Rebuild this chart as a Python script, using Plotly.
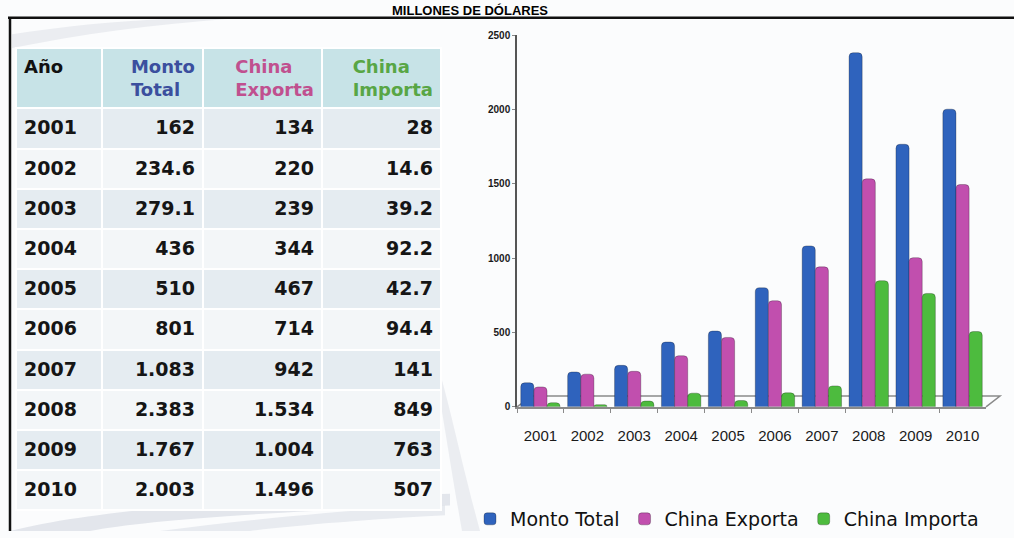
import plotly.graph_objects as go

# ---------------- data ----------------
years = ["2001", "2002", "2003", "2004", "2005", "2006", "2007", "2008", "2009", "2010"]
monto_total = [162, 234.6, 279.1, 436, 510, 801, 1083, 2383, 1767, 2003]
china_exporta = [134, 220, 239, 344, 467, 714, 942, 1534, 1004, 1496]
china_importa = [28, 14.6, 39.2, 92.2, 42.7, 94.4, 141, 849, 763, 507]
series_names = ["Monto Total", "China Exporta", "China Importa"]
header_labels = ["Año", "Monto<br>Total", "China<br>Exporta", "China<br>Importa"]
y_ticks = [0, 500, 1000, 1500, 2000, 2500]
title_text = "MILLONES DE DÓLARES"

W, H = 1014, 538
def px(x):
    return x / W
def py(y):
    return (H - y) / H

def fmt(v):
    if v >= 1000:
        return f"{v/1000:.3f}"
    if float(v).is_integer():
        return str(int(v))
    return f"{v}"

bar_colors = ["#2f63bd", "#c14fae", "#4dbb3e"]
header_colors = ["#111111", "#3b4f9e", "#c0508f", "#58a645"]
TFONT = "DejaVu Sans, Liberation Sans, Arial"

fig = go.Figure()

# ---------------- table ----------------
row_fill = ["#e5ecf1" if i % 2 == 0 else "#f3f6f8" for i in range(len(years))]
fig.add_trace(go.Table(
    domain=dict(x=[px(16), px(441)], y=[py(520), py(44)]),
    columnwidth=[86, 101, 119, 119],
    header=dict(
        values=[f"<b>{h}</b>" for h in header_labels],
        fill_color="#c7e3e7",
        line=dict(color="white", width=2),
        align=["left", "right", "right", "right"],
        font=dict(family=TFONT, size=18, color=header_colors),
        height=56,
    ),
    cells=dict(
        values=[[f"<b>{y}</b>" for y in years],
                [f"<b>{fmt(v)}</b>" for v in monto_total],
                [f"<b>{fmt(v)}</b>" for v in china_exporta],
                [f"<b>{fmt(v)}</b>" for v in china_importa]],
        fill_color=[row_fill] * 4,
        line=dict(color="white", width=2),
        align=["left", "right", "right", "right"],
        font=dict(family=TFONT, size=19, color="#151515"),
        height=40.2,
    ),
))

# ---------------- bars ----------------
for name, vals, col in zip(series_names, [monto_total, china_exporta, china_importa], bar_colors):
    fig.add_trace(go.Bar(
        x=years, y=vals, name=name,
        marker=dict(color=col, line=dict(color="rgba(0,0,0,0.25)", width=1), cornerradius=4),
        xaxis="x", yaxis="y",
    ))

# ---------------- decorations ----------------
shapes = []
swooshes = [
    ("M 10,538 C 100,515 250,505 450,500 L 450,512 C 260,518 140,528 90,538 Z", 0.18),
    ("M 160,538 C 260,525 360,515 445,512 L 445,522 C 370,526 300,532 250,538 Z", 0.14),
    ("M 441,380 C 452,420 462,470 480,538 L 462,538 C 452,480 446,440 441,410 Z", 0.12),
    ("M 12,30 C 60,22 120,16 170,14 L 230,14 C 150,20 80,30 12,44 Z", 0.12),
]
for p, op in swooshes:
    toks = p.replace(",", " ").split()
    out = []
    i = 0
    while i < len(toks):
        t = toks[i]
        if t.isalpha():
            out.append(t)
            i += 1
        else:
            x = float(toks[i]); y = float(toks[i + 1])
            out.append(f"{px(x):.5f},{py(y):.5f}")
            i += 2
    shapes.append(dict(type="path", xref="paper", yref="paper", path=" ".join(out),
                       fillcolor=f"rgba(120,135,160,{op})", line=dict(width=0), layer="below"))

# frame lines
shapes.append(dict(type="line", xref="paper", yref="paper", x0=px(8), x1=1, y0=py(13), y1=py(13),
                   line=dict(color="#111", width=2.5)))
shapes.append(dict(type="line", xref="paper", yref="paper", x0=px(10), x1=px(10), y0=py(13), y1=0,
                   line=dict(color="#111", width=2.5)))
# 3D floor
fpath = (f"M {px(517):.5f},{py(411):.5f} L {px(532):.5f},{py(400):.5f} "
         f"L {px(1000):.5f},{py(400):.5f} L {px(986):.5f},{py(411):.5f}")
shapes.append(dict(type="path", xref="paper", yref="paper", path=fpath,
                   line=dict(color="#8a8a8a", width=1.5), layer="below"))

fig.update_layout(
    width=W, height=H,
    margin=dict(l=0, r=0, t=0, b=0),
    paper_bgcolor="#fbfcfd",
    plot_bgcolor="rgba(0,0,0,0)",
    barmode="group",
    bargap=0.16,
    bargroupgap=0.0,
    shapes=shapes,
    xaxis=dict(
        domain=[px(517), px(986)],
        type="category",
        showline=True, linecolor="#8a8a8a", linewidth=1.5,
        ticks="outside", ticklen=4, tickcolor="#8a8a8a", tickson="boundaries",
        tickfont=dict(family="Liberation Sans, Arial", size=15, color="#1a1a1a"),
        ticklabelstandoff=14,
        showgrid=False, zeroline=False,
    ),
    yaxis=dict(
        domain=[py(411), py(31)],
        range=[0, 2500],
        tickvals=y_ticks,
        showline=True, linecolor="#555", linewidth=1.5,
        ticks="outside", ticklen=3, tickcolor="#888",
        tickfont=dict(family="Liberation Sans, Arial", size=10, color="#1a1a1a", weight="bold"),
        showgrid=False, zeroline=False,
    ),
    legend=dict(
        orientation="h", x=px(470), y=py(526), xanchor="left", yanchor="middle",
        font=dict(family="DejaVu Sans, Liberation Sans", size=19, color="#111"),
        bgcolor="rgba(0,0,0,0)", itemwidth=30, tracegroupgap=0,
    ),
    annotations=[dict(
        text=f"<b>{title_text}</b>", xref="paper", yref="paper",
        x=px(470), y=py(6), xanchor="center", yanchor="middle", showarrow=False,
        font=dict(family="Liberation Sans, Arial", size=13, color="#000"),
    )],
    showlegend=True,
)

fig.write_html("out.html")
